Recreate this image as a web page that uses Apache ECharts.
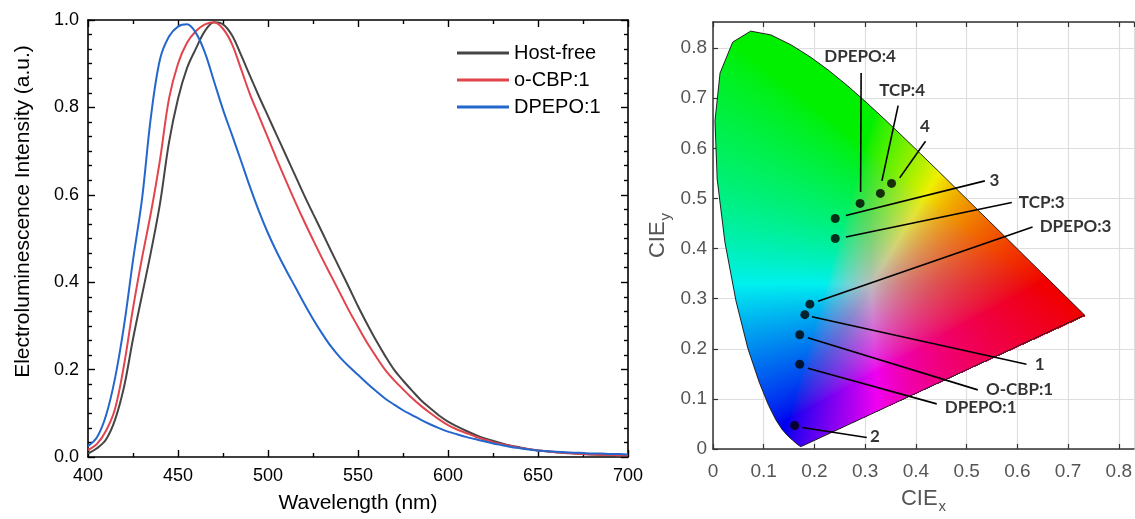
<!DOCTYPE html>
<html>
<head>
<meta charset="utf-8">
<script src="https://cdn.jsdelivr.net/npm/echarts@6/dist/echarts.min.js"></script>
<style>
  html, body { margin: 0; padding: 0; background: #fff; }
  #chart { width: 1135px; height: 519px; }
</style>
</head>
<body>
<div id="chart"></div>
<script>
// EL spectra (left panel)
const wavelengths = [400, 405, 410, 415, 420, 425, 430, 435, 440, 445, 450, 455, 460, 465, 470, 475, 480, 485, 490, 495,
  500, 505, 510, 515, 520, 525, 530, 535, 540, 545, 550, 555, 560, 565, 570, 575, 580, 585, 590, 595,
  600, 605, 610, 615, 620, 625, 630, 635, 640, 645, 650, 655, 660, 665, 670, 675, 680, 685, 690, 695, 700];
const hostFree = [0.008, 0.02, 0.04, 0.085, 0.16, 0.27, 0.37, 0.47, 0.58, 0.72, 0.82, 0.89, 0.935, 0.975, 0.995, 0.99, 0.965, 0.92, 0.872, 0.825,
  0.78, 0.735, 0.69, 0.645, 0.6, 0.557, 0.515, 0.472, 0.43, 0.388, 0.345, 0.305, 0.267, 0.232, 0.2, 0.175, 0.152, 0.13, 0.112, 0.095,
  0.081, 0.07, 0.06, 0.051, 0.043, 0.037, 0.031, 0.026, 0.022, 0.018, 0.015, 0.013, 0.011, 0.009, 0.008, 0.007, 0.006, 0.005, 0.005, 0.004, 0.004];
const oCbp = [0.016, 0.03, 0.06, 0.11, 0.21, 0.34, 0.455, 0.56, 0.68, 0.82, 0.9, 0.948, 0.975, 0.99, 0.995, 0.98, 0.945, 0.888, 0.83, 0.78,
  0.73, 0.68, 0.632, 0.585, 0.54, 0.497, 0.455, 0.415, 0.375, 0.335, 0.298, 0.262, 0.23, 0.2, 0.176, 0.155, 0.135, 0.117, 0.101, 0.086,
  0.073, 0.063, 0.055, 0.047, 0.04, 0.034, 0.029, 0.025, 0.021, 0.018, 0.015, 0.013, 0.011, 0.01, 0.008, 0.007, 0.006, 0.005, 0.005, 0.004, 0.004];
const dpepo = [0.025, 0.045, 0.095, 0.18, 0.3, 0.45, 0.59, 0.78, 0.91, 0.962, 0.985, 0.99, 0.97, 0.925, 0.86, 0.795, 0.737, 0.678, 0.618, 0.562,
  0.512, 0.468, 0.428, 0.39, 0.352, 0.316, 0.283, 0.253, 0.228, 0.207, 0.188, 0.169, 0.151, 0.134, 0.12, 0.107, 0.096, 0.085, 0.075, 0.066,
  0.058, 0.052, 0.046, 0.041, 0.036, 0.031, 0.027, 0.023, 0.02, 0.017, 0.015, 0.013, 0.012, 0.011, 0.01, 0.009, 0.008, 0.008, 0.007, 0.007, 0.006];

// CIE 1931 spectral locus, 380-700 nm
const locusX = [0.1741, 0.1740, 0.1738, 0.1736, 0.1733, 0.1730, 0.1726, 0.1721, 0.1714, 0.1703, 0.1689, 0.1669, 0.1644, 0.1611, 0.1566,
  0.1510, 0.1440, 0.1355, 0.1241, 0.1096, 0.0913, 0.0687, 0.0454, 0.0235, 0.0082, 0.0039, 0.0139, 0.0389, 0.0743, 0.1142, 0.1547,
  0.1929, 0.2296, 0.2658, 0.3016, 0.3373, 0.3731, 0.4087, 0.4441, 0.4788, 0.5125, 0.5448, 0.5752, 0.6029, 0.6270, 0.6482, 0.6658,
  0.6801, 0.6915, 0.7006, 0.7079, 0.7140, 0.7190, 0.7230, 0.7260, 0.7283, 0.7300, 0.7311, 0.7320, 0.7327, 0.7334, 0.7340, 0.7344, 0.7346, 0.7347];
const locusY = [0.0050, 0.0050, 0.0049, 0.0049, 0.0048, 0.0048, 0.0048, 0.0048, 0.0051, 0.0058, 0.0069, 0.0086, 0.0109, 0.0138, 0.0177,
  0.0227, 0.0297, 0.0399, 0.0578, 0.0868, 0.1327, 0.2007, 0.2950, 0.4127, 0.5384, 0.6548, 0.7502, 0.8120, 0.8338, 0.8262, 0.8059,
  0.7816, 0.7543, 0.7243, 0.6923, 0.6589, 0.6245, 0.5896, 0.5547, 0.5202, 0.4866, 0.4544, 0.4242, 0.3965, 0.3725, 0.3514, 0.3340,
  0.3197, 0.3083, 0.2993, 0.2920, 0.2859, 0.2809, 0.2770, 0.2740, 0.2717, 0.2700, 0.2689, 0.2680, 0.2673, 0.2666, 0.2660, 0.2656, 0.2654, 0.2653];

// device colour coordinates
const cieNames = ['DPEPO:4', 'TCP:4', '4', '3', 'TCP:3', 'DPEPO:3', '1', 'O-CBP:1', 'DPEPO:1', '2'];
const cieX = [0.290, 0.330, 0.352, 0.241, 0.241, 0.191, 0.181, 0.171, 0.171, 0.161];
const cieY = [0.490, 0.510, 0.530, 0.460, 0.420, 0.289, 0.268, 0.228, 0.169, 0.047];
const leaderFrom = [[0.291, 0.513], [0.333, 0.535], [0.368, 0.541], [0.262, 0.466], [0.262, 0.423],
  [0.207, 0.295], [0.195, 0.264], [0.187, 0.222], [0.187, 0.161], [0.176, 0.043]];
const leaderTo = [[0.292, 0.750], [0.365, 0.685], [0.419, 0.614], [0.536, 0.535], [0.589, 0.492],
  [0.630, 0.443], [0.618, 0.169], [0.522, 0.118], [0.441, 0.090], [0.303, 0.023]];
const labelAt = [[0.290, 0.783], [0.373, 0.716], [0.418, 0.643], [0.555, 0.535], [0.603, 0.492],
  [0.644, 0.443], [0.644, 0.169], [0.538, 0.118], [0.457, 0.082], [0.319, 0.024]];
const labelAlign = ['center', 'center', 'center', 'center', 'left', 'left', 'center', 'left', 'left', 'center'];

const FONT = 'Liberation Sans, Arial, sans-serif';

function insideLocus(x, y) {
  let inside = false;
  const n = locusX.length;
  for (let i = 0, j = n - 1; i < n; j = i++) {
    const xi = locusX[i], yi = locusY[i], xj = locusX[j], yj = locusY[j];
    if ((yi > y) !== (yj > y) && x < (xj - xi) * (y - yi) / (yj - yi) + xi) inside = !inside;
  }
  return inside;
}

function chromaColor(x, y) {
  const X = x / y, Z = (1 - x - y) / y;
  let c = [
    3.2406 * X - 1.5372 - 0.4986 * Z,
    -0.9689 * X + 1.8758 + 0.0415 * Z,
    0.0557 * X - 0.2040 + 1.0570 * Z
  ].map(v => Math.max(v, 0));
  const m = Math.max(c[0], c[1], c[2]) || 1;
  c = c.map(v => Math.pow(v / m, 1 / 1.4));
  const sat = 1 - Math.min(c[0], c[1], c[2]);
  const k = 0.74 + 0.2 * sat;
  return c.map(v => Math.round(v * k * 255));
}

let gamutCache = null;
function renderGamut(params, api) {
  const o = api.coord([0, 0]);
  const u = api.coord([1, 1]);
  const sx = u[0] - o[0], sy = u[1] - o[1];
  const left = Math.floor(o[0] + Math.min(...locusX) * sx);
  const right = Math.ceil(o[0] + Math.max(...locusX) * sx);
  const top = Math.floor(o[1] + Math.max(...locusY) * sy);
  const bottom = Math.ceil(o[1] + Math.min(...locusY) * sy);
  const w = right - left, h = bottom - top;
  const key = [left, top, w, h].join(',');
  if (!gamutCache || gamutCache.key !== key) {
    const cv = document.createElement('canvas');
    cv.width = w; cv.height = h;
    const ctx = cv.getContext('2d');
    const img = ctx.createImageData(w, h);
    for (let j = 0; j < h; j++) {
      const cy = (top + j + 0.5 - o[1]) / sy;
      for (let i = 0; i < w; i++) {
        const cx = (left + i + 0.5 - o[0]) / sx;
        if (!insideLocus(cx, cy)) continue;
        const col = chromaColor(cx, cy);
        const p = (j * w + i) * 4;
        img.data[p] = col[0]; img.data[p + 1] = col[1]; img.data[p + 2] = col[2]; img.data[p + 3] = 255;
      }
    }
    ctx.putImageData(img, 0, 0);
    gamutCache = { key: key, canvas: cv };
  }
  return { type: 'image', style: { image: gamutCache.canvas, x: left, y: top, width: w, height: h } };
}

const chart = echarts.init(document.getElementById('chart'));

const tickStyle = { color: '#000', width: 1.4 };
const boxAxis = {
  axisLine: { show: true, onZero: false, lineStyle: { color: '#000', width: 1.6 } },
  axisTick: { show: true, inside: true, length: 7, lineStyle: tickStyle },
  splitLine: { show: false }
};
const cieAxis = {
  axisLine: { show: true, onZero: false, lineStyle: { color: '#333', width: 1.5 } },
  axisTick: { show: true, inside: true, length: 5, lineStyle: { color: '#333', width: 1.2 } },
  splitLine: { show: true, lineStyle: { color: '#dedede', width: 1.2 } }
};
const minorX = { show: true, splitNumber: 2, length: 4, lineStyle: tickStyle };
const minorY = { show: true, splitNumber: 6, length: 4, lineStyle: tickStyle };

const spectrum = (vals) => wavelengths.map((w, i) => [w, vals[i]]);

const option = {
  animation: false,
  legend: {
    orient: 'vertical', left: 452, top: 38,
    icon: 'rect', itemWidth: 52, itemHeight: 3, itemGap: 7,
    data: ['Host-free', 'o-CBP:1', 'DPEPO:1'],
    textStyle: { fontFamily: FONT, fontSize: 20, color: '#000' }
  },
  grid: [
    { left: 88, top: 20, width: 540, height: 437 },
    { left: 713, top: 22, right: 0, bottom: 64 }
  ],
  xAxis: [
    Object.assign({}, boxAxis, {
      gridIndex: 0, type: 'value', min: 400, max: 700, interval: 50, minorTick: minorX,
      axisLabel: { fontFamily: FONT, fontSize: 18, color: '#000', margin: 10 },
      name: 'Wavelength (nm)', nameLocation: 'middle', nameGap: 36,
      nameTextStyle: { fontFamily: FONT, fontSize: 21, color: '#000' }
    }),
    Object.assign({}, boxAxis, {
      gridIndex: 0, type: 'value', position: 'top', min: 400, max: 700, interval: 50, minorTick: minorX,
      axisLabel: { show: false }
    }),
    Object.assign({}, cieAxis, {
      gridIndex: 1, type: 'value', min: 0, max: 0.83, interval: 0.1,
      axisLabel: { fontFamily: FONT, fontSize: 19, color: '#555', margin: 13, showMaxLabel: false },
      name: '{m|CIE}{s|x}', nameLocation: 'middle', nameGap: 34,
      nameTextStyle: { rich: {
        m: { fontFamily: FONT, fontSize: 22, color: '#555' },
        s: { fontFamily: FONT, fontSize: 15, color: '#555', padding: [16, 0, 0, 1] }
      } }
    }),
    Object.assign({}, cieAxis, {
      gridIndex: 1, type: 'value', position: 'top', min: 0, max: 0.83, interval: 0.1,
      splitLine: { show: false }, axisLabel: { show: false }
    })
  ],
  yAxis: [
    Object.assign({}, boxAxis, {
      gridIndex: 0, type: 'value', min: 0, max: 1, interval: 0.2, minorTick: minorY,
      axisLabel: { fontFamily: FONT, fontSize: 18, color: '#000', margin: 9, formatter: v => v.toFixed(1) },
      name: 'Electroluminescence Intensity (a.u.)', nameLocation: 'middle', nameGap: 54,
      nameTextStyle: { fontFamily: FONT, fontSize: 21, color: '#000', padding: [0, 0, 0, 54] }
    }),
    Object.assign({}, boxAxis, {
      gridIndex: 0, type: 'value', position: 'right', min: 0, max: 1, interval: 0.2, minorTick: minorY,
      axisLabel: { show: false }
    }),
    Object.assign({}, cieAxis, {
      gridIndex: 1, type: 'value', min: 0, max: 0.852, interval: 0.1,
      axisLabel: { fontFamily: FONT, fontSize: 19, color: '#555', margin: 6, showMaxLabel: false },
      name: '{m|CIE}{s|y}', nameLocation: 'middle', nameGap: 40,
      nameTextStyle: { rich: {
        m: { fontFamily: FONT, fontSize: 22, color: '#555' },
        s: { fontFamily: FONT, fontSize: 15, color: '#555', padding: [16, 0, 0, 1] }
      } }
    })
  ],
  series: [
    {
      name: 'Host-free', type: 'line', xAxisIndex: 0, yAxisIndex: 0,
      data: spectrum(hostFree), symbol: 'none', smooth: 0.35,
      lineStyle: { color: '#454545', width: 2 }, itemStyle: { color: '#454545' }, z: 3
    },
    {
      name: 'o-CBP:1', type: 'line', xAxisIndex: 0, yAxisIndex: 0,
      data: spectrum(oCbp), symbol: 'none', smooth: 0.35,
      lineStyle: { color: '#e2444c', width: 2 }, itemStyle: { color: '#e2444c' }, z: 4
    },
    {
      name: 'DPEPO:1', type: 'line', xAxisIndex: 0, yAxisIndex: 0,
      data: spectrum(dpepo), symbol: 'none', smooth: 0.35,
      lineStyle: { color: '#2467cc', width: 2 }, itemStyle: { color: '#2467cc' }, z: 5
    },
    {
      type: 'custom', xAxisIndex: 2, yAxisIndex: 2, silent: true,
      data: [[0, 0]], renderItem: renderGamut, z: 2
    },
    {
      type: 'line', xAxisIndex: 2, yAxisIndex: 2, silent: true, symbol: 'none',
      data: locusX.map((x, i) => [x, locusY[i]]).concat([[locusX[0], locusY[0]]]),
      lineStyle: { color: '#222', width: 1 }, z: 3
    },
    {
      type: 'lines', coordinateSystem: 'cartesian2d', xAxisIndex: 2, yAxisIndex: 2, silent: true,
      data: leaderFrom.map((p, i) => ({ coords: [p, leaderTo[i]] })),
      lineStyle: { color: '#000', width: 1.6, opacity: 1 }, z: 4
    },
    {
      type: 'scatter', xAxisIndex: 2, yAxisIndex: 2, silent: true,
      data: cieX.map((x, i) => [x, cieY[i]]),
      symbolSize: 9, itemStyle: { color: '#000' }, z: 5
    },
    {
      type: 'scatter', xAxisIndex: 2, yAxisIndex: 2, silent: true, symbolSize: 0,
      data: labelAt.map((p, i) => ({ value: p, name: cieNames[i], label: { align: labelAlign[i] } })),
      label: {
        show: true, position: 'inside', formatter: p => p.name, verticalAlign: 'middle',
        fontFamily: 'Lato, Open Sans, sans-serif', fontWeight: 'bold', fontSize: 17, color: '#000'
      },
      z: 6
    }
  ]
};

chart.setOption(option);
</script>
</body>
</html>
